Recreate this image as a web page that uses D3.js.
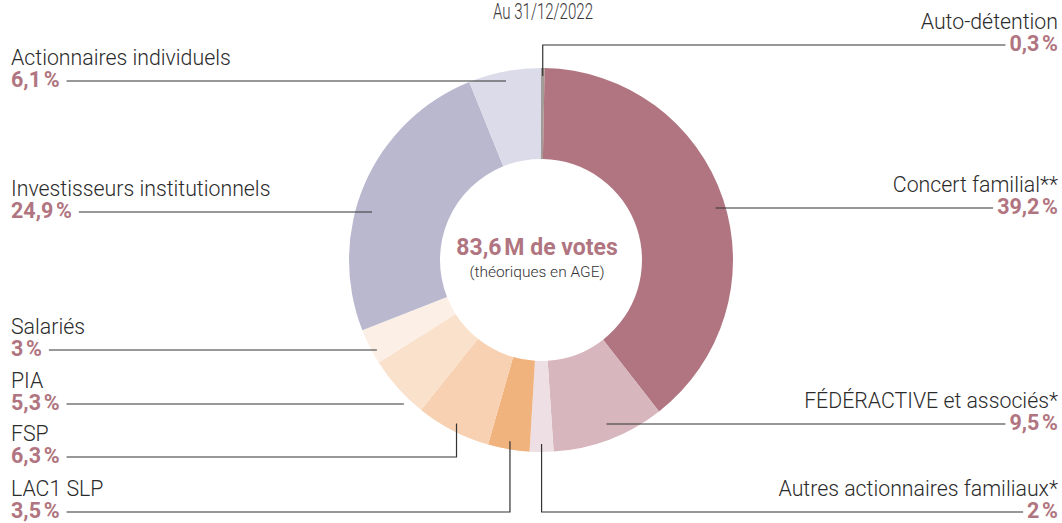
<!DOCTYPE html>
<html>
<head>
<meta charset="utf-8">
<script src="https://cdn.jsdelivr.net/npm/d3@7"></script>
<style>
	body { margin: 0; background: #fff; }
	text { font-family: Roboto, "Noto Sans", sans-serif; }
</style>
</head>
<body>
<div class="container"></div>
<script>
var	WIDTH = 1062,
	HEIGHT = 523,
	CX = 541,
	CY = 260,
	OUTER = 192,
	INNER = 101,
	ANCHOR = 184,
	LEFT_X = 11,
	RIGHT_X = 1058;

// data
var categories = ['Auto-détention', 'Concert familial**', 'FÉDÉRACTIVE et associés*',
	'Autres actionnaires familiaux*', 'LAC1 SLP', 'FSP', 'PIA', 'Salariés',
	'Investisseurs institutionnels', 'Actionnaires individuels'];
var shares = [0.3, 39.2, 9.5, 2, 3.5, 6.3, 5.3, 3, 24.9, 6.1];
var title = 'Au 31/12/2022';
var totalLabel = '83,6\u202fM de votes';
var totalNote = '(théoriques en AGE)';

// styles / layout
var palette = ['#a29b95', '#b07580', '#d7b7bd', '#eddfe3', '#f0b37e', '#f8d1b2',
	'#fae1cc', '#fcefe6', '#bab8cf', '#dcdbe9'];
var labelSide = ['right', 'right', 'right', 'right', 'left', 'left', 'left', 'left', 'left', 'left'];
var labelLineY = [45, 208, 424, 512, 512, 457, 404, 350, 212, 81];
var leaderKind = ['vertical', 'horizontal', 'horizontal', 'vertical', 'vertical', 'vertical',
	'horizontal', 'horizontal', 'horizontal', 'horizontal'];

function translate(x, y) {
	return 'translate(' + x + ',' + y + ')';
}

function fmtShare(v) {
	var s = Number.isInteger(v) ? String(v) : v.toFixed(1).replace('.', ',');
	return s + '\u202f%';
}

function polar(angle, r) {
	return [CX + r * Math.sin(angle), CY - r * Math.cos(angle)];
}

function createChart() {
	var svg = d3.select('.container').append('svg')
		.attr('width', WIDTH)
		.attr('height', HEIGHT);

	var color = d3.scaleOrdinal()
		.domain(categories)
		.range(palette);

	var pie = d3.pie()
		.sort(null)
		.value(function(d) {return d})
	var arcs = pie(shares);

	var arc = d3.arc()
		.innerRadius(INNER)
		.outerRadius(OUTER)

	svg.append('g')
		.attr('transform', translate(CX, CY))
		.selectAll('path')
		.data(arcs).enter()
		.append('path')
		.attr('d', arc)
		.attr('fill', function(d, i) {return color(categories[i])})

	// title
	svg.append('text')
		.attr('x', CX + 2)
		.attr('y', 19)
		.attr('text-anchor', 'middle')
		.attr('font-size', 22)
		.attr('font-weight', 300)
		.attr('textLength', 100)
		.attr('lengthAdjust', 'spacingAndGlyphs')
		.attr('fill', '#3a3a3a')
		.text(title)

	// centre
	svg.append('text')
		.attr('x', CX - 4)
		.attr('y', CY - 5)
		.attr('text-anchor', 'middle')
		.attr('font-size', 23)
		.attr('font-weight', 700)
		.attr('fill', '#b07580')
		.text(totalLabel)
	svg.append('text')
		.attr('x', CX - 4)
		.attr('y', CY + 17)
		.attr('text-anchor', 'middle')
		.attr('font-size', 15.5)
		.attr('font-weight', 300)
		.attr('fill', '#333')
		.text(totalNote)

	var labels = svg.append('g');

	arcs.forEach(function(d, i) {
		var side = labelSide[i],
			y = labelLineY[i],
			x = side == 'left' ? LEFT_X : RIGHT_X,
			anchor = side == 'left' ? 'start' : 'end';

		labels.append('text')
			.attr('x', x)
			.attr('y', y - 16)
			.attr('text-anchor', anchor)
			.attr('font-size', 21.3)
			.attr('font-weight', 300)
			.attr('fill', '#2b2b2b')
			.text(categories[i])

		var val = labels.append('text')
			.attr('x', x)
			.attr('y', y + 6)
			.attr('text-anchor', anchor)
			.attr('font-size', 21.5)
			.attr('font-weight', 700)
			.attr('fill', '#b07580')
			.text(fmtShare(shares[i]))

		var w = val.node().getComputedTextLength();
		var edge = side == 'left' ? x + w + 7 : x - w - 4;

		var mid = (d.startAngle + d.endAngle) / 2,
			p = polar(mid, ANCHOR),
			path = d3.path();

		if (leaderKind[i] == 'vertical') {
			path.moveTo(p[0], p[1]);
			path.lineTo(p[0], y);
			path.lineTo(edge, y);
		} else {
			path.moveTo(edge, y);
			path.lineTo(p[0], y);
		}

		labels.append('path')
			.attr('d', path.toString())
			.attr('fill', 'none')
			.attr('stroke', '#333')
			.attr('stroke-width', 1.2)
	});
}

window.onload = function() {
	createChart();
}
</script>
</body>
</html>
